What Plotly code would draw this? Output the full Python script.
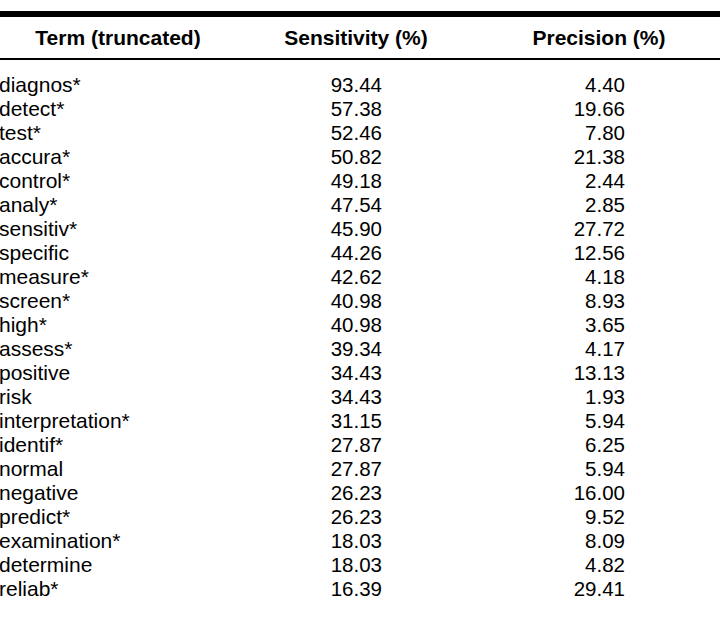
import plotly.graph_objects as go

headers = ["Term (truncated)", "Sensitivity (%)", "Precision (%)"]
terms = ["diagnos*", "detect*", "test*", "accura*", "control*", "analy*", "sensitiv*",
         "specific", "measure*", "screen*", "high*", "assess*", "positive", "risk",
         "interpretation*", "identif*", "normal", "negative", "predict*", "examination*",
         "determine", "reliab*"]
sensitivity = [93.44, 57.38, 52.46, 50.82, 49.18, 47.54, 45.90, 44.26, 42.62, 40.98,
               40.98, 39.34, 34.43, 34.43, 31.15, 27.87, 27.87, 26.23, 26.23, 18.03,
               18.03, 16.39]
precision = [4.40, 19.66, 7.80, 21.38, 2.44, 2.85, 27.72, 12.56, 4.18, 8.93, 3.65, 4.17,
             13.13, 1.93, 5.94, 6.25, 5.94, 16.00, 9.52, 8.09, 4.82, 29.41]

W, H = 720, 621
FONT = "Liberation Sans, Arial, Helvetica, sans-serif"
row0, dy = 87, 24
rows_y = [row0 + dy * i for i in range(len(terms))]

fig = go.Figure()
fig.add_trace(go.Scatter(
    x=[118, 356, 599], y=[40, 40, 40], mode="text", text=headers,
    textposition="middle center",
    textfont=dict(family=FONT, size=21, color="#000000", weight="bold"),
    hoverinfo="skip", showlegend=False))
fig.add_trace(go.Scatter(
    x=[-1] * len(terms), y=rows_y, mode="text", text=terms,
    textposition="middle right",
    textfont=dict(family=FONT, size=21, color="#000000"),
    hoverinfo="skip", showlegend=False))
fig.add_trace(go.Scatter(
    x=[382] * len(terms), y=rows_y, mode="text", text=[f"{v:.2f}" for v in sensitivity],
    textposition="middle left",
    textfont=dict(family=FONT, size=20.5, color="#000000"),
    hoverinfo="skip", showlegend=False))
fig.add_trace(go.Scatter(
    x=[625] * len(terms), y=rows_y, mode="text", text=[f"{v:.2f}" for v in precision],
    textposition="middle left",
    textfont=dict(family=FONT, size=20.5, color="#000000"),
    hoverinfo="skip", showlegend=False))

fig.add_shape(type="rect", x0=0, x1=W, y0=11, y1=17, fillcolor="#000000", line_width=0)
fig.add_shape(type="line", x0=0, x1=W, y0=59, y1=59, line=dict(color="#000000", width=2))

fig.update_layout(
    width=W, height=H, margin=dict(l=0, r=0, t=0, b=0),
    paper_bgcolor="white", plot_bgcolor="white",
    xaxis=dict(range=[0, W], visible=False, fixedrange=True),
    yaxis=dict(range=[H, 0], visible=False, fixedrange=True),
)
fig.write_html("out.html", config={"displayModeBar": False},
               post_script="document.body.style.margin='0';document.body.style.overflow='hidden';")
